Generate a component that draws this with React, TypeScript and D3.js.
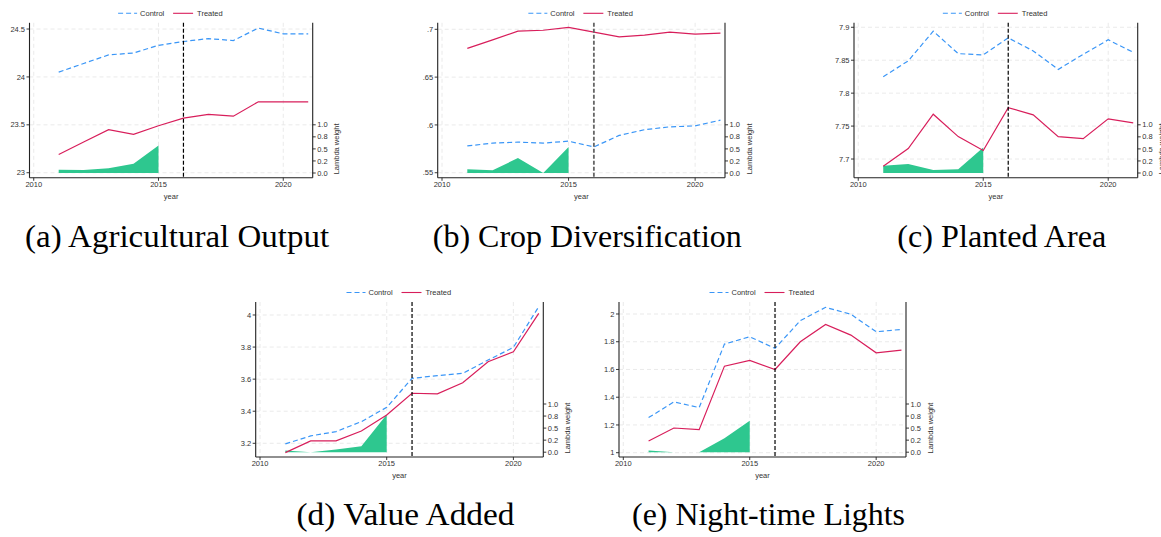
import React from 'react';
import * as d3 from 'd3';

// shared x values
const years = [2011, 2012, 2013, 2014, 2015, 2016, 2017, 2018, 2019, 2020, 2021];
const lambdaYears = [2011, 2012, 2013, 2014, 2015];
const xTicks = [2010, 2015, 2020];
const treatYear = 2016;
const lambdaTicks = [0, 0.25, 0.5, 0.75, 1];
const lambdaTickLabels = ['0.0', '0.2', '0.5', '0.8', '1.0'];

// (a) Agricultural Output
const agriControl = [24.05, 24.14, 24.23, 24.25, 24.33, 24.37, 24.40, 24.38, 24.51, 24.45, 24.45];
const agriTreated = [23.19, 23.32, 23.45, 23.40, 23.49, 23.57, 23.61, 23.59, 23.74, 23.74, 23.74];
const agriLambda = [0.07, 0.06, 0.10, 0.19, 0.57];
const agriTicks = [23, 23.5, 24, 24.5];
const agriTickLabels = ['23', '23.5', '24', '24.5'];

// (b) Crop Diversification
const divControl = [0.578, 0.581, 0.582, 0.581, 0.583, 0.577, 0.589, 0.595, 0.598, 0.599, 0.605];
const divTreated = [0.680, 0.689, 0.698, 0.699, 0.702, 0.697, 0.692, 0.694, 0.697, 0.695, 0.696];
const divLambda = [0.076, 0.056, 0.31, 0.0, 0.54];
const divTicks = [0.55, 0.6, 0.65, 0.7];
const divTickLabels = ['.55', '.6', '.65', '.7'];

// (c) Planted Area
const areaControl = [7.825, 7.849, 7.894, 7.860, 7.858, 7.884, 7.864, 7.836, 7.859, 7.881, 7.862];
const areaTreated = [7.689, 7.716, 7.768, 7.734, 7.713, 7.778, 7.767, 7.734, 7.731, 7.761, 7.755];
const areaLambda = [0.15, 0.185, 0.06, 0.08, 0.53];
const areaTicks = [7.7, 7.75, 7.8, 7.85, 7.9];
const areaTickLabels = ['7.7', '7.75', '7.8', '7.85', '7.9'];

// (d) Value Added
const vaControl = [3.196, 3.246, 3.273, 3.335, 3.424, 3.605, 3.622, 3.636, 3.719, 3.798, 4.052];
const vaTreated = [3.142, 3.215, 3.215, 3.277, 3.377, 3.512, 3.508, 3.578, 3.709, 3.771, 4.010];
const vaLambda = [0.035, 0.0, 0.055, 0.124, 0.78];
const vaTicks = [3.2, 3.4, 3.6, 3.8, 4];
const vaTickLabels = ['3.2', '3.4', '3.6', '3.8', '4'];

// (e) Night-time Lights
const ntlControl = [1.253, 1.366, 1.325, 1.783, 1.836, 1.752, 1.952, 2.048, 1.998, 1.872, 1.889];
const ntlTreated = [1.084, 1.178, 1.166, 1.624, 1.665, 1.600, 1.800, 1.925, 1.848, 1.720, 1.740];
const ntlLambda = [0.035, 0.0, 0.0, 0.29, 0.655];
const ntlTicks = [1, 1.2, 1.4, 1.6, 1.8, 2];
const ntlTickLabels = ['1', '1.2', '1.4', '1.6', '1.8', '2'];

const CONTROL = '#3a96f7';
const TREATED = '#d81e5b';
const LAMBDA = '#2ec78f';
const GRID = '#e4e4e4';
const AXIS = '#222';
const TXT = '#333';
const SANS = '"Liberation Sans", Arial, Helvetica, sans-serif';
const SERIF = '"Liberation Serif", "Times New Roman", serif';
const xDomain = [2009.83, 2021.18];

const panels = [
  { caption: '(a) Agricultural Output', capW: 304, L: 29.5, R: 312.7, T: 22.8, B: 177.8, yDomain: [22.947, 24.565],
    control: agriControl, treated: agriTreated, lambda: agriLambda, ticks: agriTicks, tickLabels: agriTickLabels },
  { caption: '(b) Crop Diversification', capW: 309, L: 437.7, R: 725, T: 22.8, B: 177.8, yDomain: [0.5447, 0.7068],
    control: divControl, treated: divTreated, lambda: divLambda, ticks: divTicks, tickLabels: divTickLabels, grayV: true },
  { caption: '(c) Planted Area', capW: 209, L: 854, R: 1137.7, T: 22.8, B: 177.8, yDomain: [7.6715, 7.9068],
    control: areaControl, treated: areaTreated, lambda: areaLambda, ticks: areaTicks, tickLabels: areaTickLabels },
  { caption: '(d) Value Added', capW: 218, L: 255.7, R: 543.3, T: 302, B: 457, yDomain: [3.1146, 4.081],
    control: vaControl, treated: vaTreated, lambda: vaLambda, ticks: vaTicks, tickLabels: vaTickLabels },
  { caption: '(e) Night-time Lights', capW: 273, L: 619, R: 906, T: 302, B: 457, yDomain: [0.969, 2.0865],
    control: ntlControl, treated: ntlTreated, lambda: ntlLambda, ticks: ntlTicks, tickLabels: ntlTickLabels },
];

function Panel({ p }: { p: any }) {
  const x = d3.scaleLinear().domain(xDomain).range([p.L, p.R]);
  const y = d3.scaleLinear().domain(p.yDomain).range([p.B, p.T]);
  const lam = d3.scaleLinear().domain([0, 1]).range([p.B - 4.8, p.B - 53]);
  const line = d3.line<number>().x((_, i) => x(years[i])).y(d => y(d));
  const area = d3.area<number>().x((_, i) => x(lambdaYears[i])).y0(lam(0)).y1(d => lam(d));
  const cx = (p.L + p.R) / 2;
  const capBase = p.T < 100 ? 247 : 525;

  return (
    <g>
      {/* grid */}
      {p.ticks.map((t: number) => (
        <line key={'gy' + t} x1={p.L} x2={p.R} y1={y(t)} y2={y(t)} stroke={GRID} strokeWidth={0.8} strokeDasharray="4,3" />
      ))}
      {xTicks.map(t => (
        <line key={'gx' + t} x1={x(t)} x2={x(t)} y1={p.T} y2={p.B} stroke={GRID} strokeWidth={0.8} strokeDasharray="4,3" />
      ))}

      <path d={area(p.lambda) || ''} fill={LAMBDA} />
      <path d={line(p.control) || ''} fill="none" stroke={CONTROL} strokeWidth={1.2} strokeDasharray="5,3" />
      <path d={line(p.treated) || ''} fill="none" stroke={TREATED} strokeWidth={1.2} />

      <line x1={x(treatYear)} x2={x(treatYear)} y1={p.T} y2={p.B}
        stroke={p.grayV ? '#666' : '#000'} strokeWidth={p.grayV ? 1.8 : 1.2} strokeDasharray="4,2" />

      {/* left axis */}
      <line x1={p.L} x2={p.L} y1={p.T} y2={p.B} stroke={AXIS} strokeWidth={1.1} />
      {p.ticks.map((t: number, i: number) => (
        <g key={'ly' + t}>
          <line x1={p.L - 3} x2={p.L} y1={y(t)} y2={y(t)} stroke={AXIS} strokeWidth={0.9} />
          <text x={p.L - 4.5} y={y(t)} dy="0.35em" textAnchor="end" fontSize={7.5} fill={TXT}>{p.tickLabels[i]}</text>
        </g>
      ))}

      {/* bottom axis */}
      <line x1={p.L} x2={p.R} y1={p.B} y2={p.B} stroke={AXIS} strokeWidth={1.1} />
      {xTicks.map(t => (
        <g key={'bx' + t}>
          <line x1={x(t)} x2={x(t)} y1={p.B} y2={p.B + 3} stroke={AXIS} strokeWidth={0.9} />
          <text x={x(t)} y={p.B + 9} textAnchor="middle" fontSize={7.5} fill={TXT}>{t}</text>
        </g>
      ))}
      <text x={cx} y={p.B + 21} textAnchor="middle" fontSize={7.5} fill={TXT}>year</text>

      {/* right (lambda) axis */}
      <line x1={p.R} x2={p.R} y1={p.T} y2={p.B} stroke={AXIS} strokeWidth={1.1} />
      {lambdaTicks.map((t, i) => (
        <g key={'rl' + t}>
          <line x1={p.R} x2={p.R + 3} y1={lam(t)} y2={lam(t)} stroke={AXIS} strokeWidth={0.9} />
          <text x={p.R + 4.5} y={lam(t)} dy="0.35em" fontSize={7.5} fill={TXT}>{lambdaTickLabels[i]}</text>
        </g>
      ))}
      <text transform={`translate(${p.R + 24},${(lam(0) + lam(1)) / 2}) rotate(-90)`} dy="0.35em"
        textAnchor="middle" fontSize={7.5} fill={TXT}>Lambda weight</text>

      {/* legend */}
      <g transform={`translate(${cx},${p.T - 9.5})`}>
        <line x1={-53} x2={-34} y1={0} y2={0} stroke={CONTROL} strokeWidth={1.1} strokeDasharray="5,3" />
        <text x={-31} y={0} dy="0.35em" fontSize={7.5} fill={TXT}>Control</text>
        <line x1={2} x2={22} y1={0} y2={0} stroke={TREATED} strokeWidth={1.1} />
        <text x={26} y={0} dy="0.35em" fontSize={7.5} fill={TXT}>Treated</text>
      </g>

      {/* caption */}
      <text x={cx + 6} y={capBase} textAnchor="middle" fontFamily={SERIF} fontSize={32}
        textLength={p.capW} lengthAdjust="spacingAndGlyphs" fill="#000">{p.caption}</text>
    </g>
  );
}

export default function App() {
  return (
    <svg width={1161} height={537} style={{ position: 'absolute', left: 0, top: 0, background: '#fff' }}
      fontFamily={SANS}>
      {panels.map(p => <Panel key={p.caption} p={p} />)}
    </svg>
  );
}
